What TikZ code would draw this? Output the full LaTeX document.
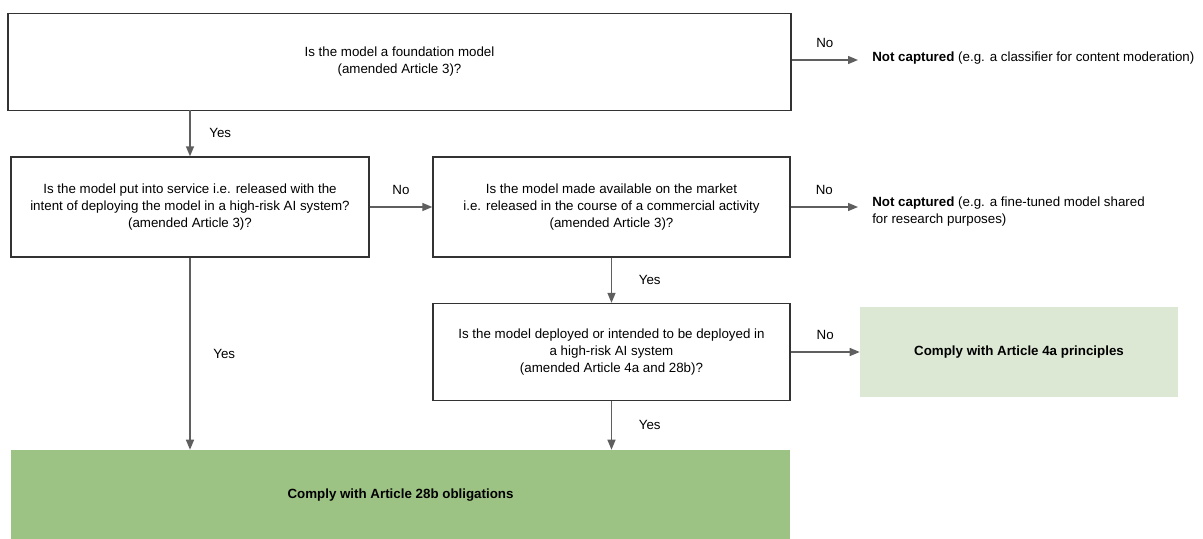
\documentclass[tikz,border=0pt]{standalone}
\usepackage{fontspec}
\setmainfont{Liberation Sans}
\usetikzlibrary{arrows.meta}
\definecolor{edgegray}{HTML}{5F5F5F}
\definecolor{boxline}{HTML}{333333}
\definecolor{lightgreen}{HTML}{DCE8D3}
\definecolor{darkgreen}{HTML}{9DC384}

\begin{document}
\begin{tikzpicture}[
    x=0.75pt, y=-0.75pt,
    font=\fontsize{10}{12.75}\selectfont,
    question/.style={rectangle, draw=boxline, line width=1pt, align=center, inner sep=0pt},
    outcome/.style={rectangle, align=center, inner sep=0pt, font=\fontsize{10}{12.75}\selectfont\bfseries},
    result/.style={anchor=west, align=left, inner sep=0pt},
    arrow/.style={-{Triangle[length=7.5pt, width=6pt]}, edgegray, line width=1pt},
    lbl/.style={text=black, inner sep=0pt},
]
    \useasboundingbox (0,0) rectangle (1203,539);

    % Questions
    \node[question, minimum width=587.25pt, minimum height=72.75pt] (found) at (399.5, 62)
        {Is the model a foundation model\\(amended Article 3)?};
    \node[question, minimum width=268.5pt, minimum height=75pt] (service) at (190, 207)
        {Is the model put into service i.e. released with the\\intent of deploying the model in a high-risk AI system?\\(amended Article 3)?};
    \node[question, minimum width=267.75pt, minimum height=75pt] (market) at (611.5, 207)
        {Is the model made available on the market\\i.e. released in the course of a commercial activity\\(amended Article 3)?};
    \node[question, minimum width=267.75pt, minimum height=72.75pt] (highrisk) at (611.5, 352)
        {Is the model deployed or intended to be deployed in\\a high-risk AI system\\(amended Article 4a and 28b)?};

    % Outcomes
    \node[outcome, fill=lightgreen, minimum width=238.5pt, minimum height=67.5pt] (principles) at (1019, 352)
        {Comply with Article 4a principles};
    \node[outcome, fill=darkgreen, minimum width=584.25pt, minimum height=67.5pt] (obligations) at (400.5, 495)
        {Comply with Article 28b obligations};
    \node[result] (nocap1) at (872, 58)
        {\textbf{Not captured} (e.g. a classifier for content moderation)};
    \node[result] (nocap2) at (872, 212)
        {\textbf{Not captured} (e.g. a fine-tuned model shared\\for research purposes)};

    % Arrows
    \draw[arrow] (found.east |- 0,60) -- node[lbl, above=9pt] {No} (858, 60);
    \draw[arrow] (190, 110) -- node[lbl, right=14pt] {Yes} (service.north);
    \draw[arrow] (service.east) -- node[lbl, above=9pt] {No} (market.west);
    \draw[arrow] (market.east) -- node[lbl, above=9pt] {No} (858, 207);
    \draw[arrow] (market.south) -- node[lbl, right=20pt] {Yes} (highrisk.north);
    \draw[arrow] (highrisk.east) -- node[lbl, above=9pt] {No} (principles.west);
    \draw[arrow] (highrisk.south) -- node[lbl, right=20pt] {Yes} (highrisk.south |- obligations.north);
    \draw[arrow] (service.south) -- node[lbl, right=17pt] {Yes} (service.south |- obligations.north);
\end{tikzpicture}
\end{document}
